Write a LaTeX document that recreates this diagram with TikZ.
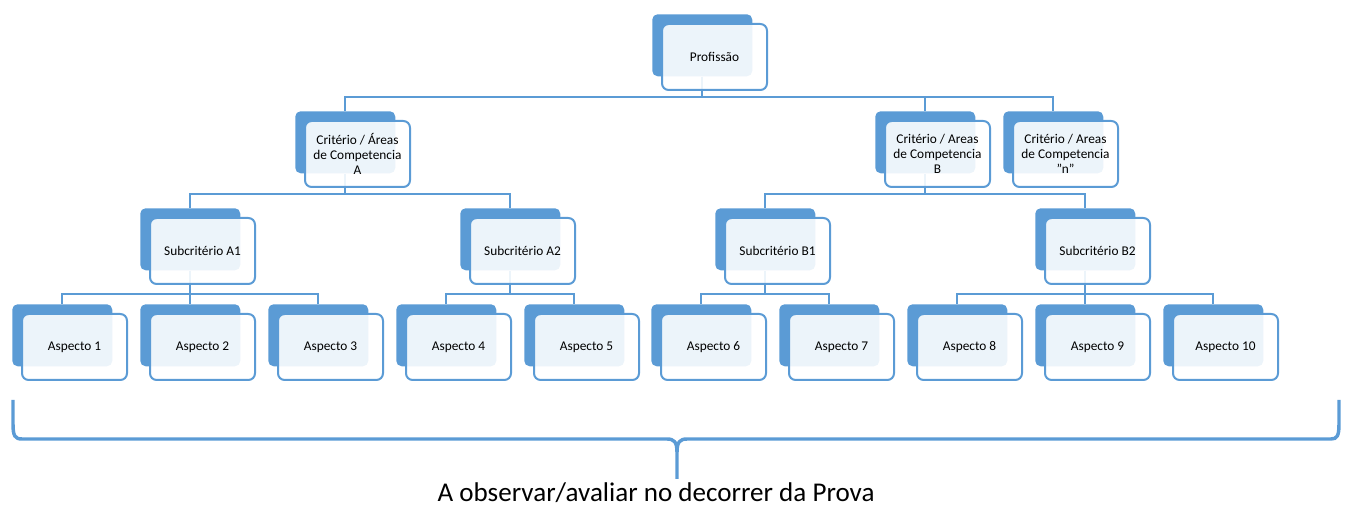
\documentclass[tikz,border=0pt]{standalone}
\usepackage{fontspec}
\setmainfont{Carlito}
\usetikzlibrary{backgrounds}
\definecolor{blu}{RGB}{91,155,213}
\tikzset{
  backbox/.style={draw=none, fill=blu, rounded corners=4pt, minimum width=75pt, minimum height=46.5pt, anchor=north west, inner sep=0pt},
  frontbox/.style={draw=blu, line width=1.5pt, fill=white, fill opacity=0.89, text opacity=1, rounded corners=5pt, minimum width=78.75pt, minimum height=49.5pt, anchor=north west, inner sep=0pt, align=center, font=\fontsize{10}{11.5}\selectfont},
  conn/.style={draw=blu, line width=1.5pt},
  bracestyle/.style={draw=blu, line width=2.6pt}
}
\newcommand\twobox[4]{%
  \node[backbox] (#1-b) at (#2,#3) {};
  \node[frontbox] (#1) at (#2+9,#3+9) {#4};}
\begin{document}
\begin{tikzpicture}[x=0.75pt,y=-0.75pt]
\useasboundingbox (0,0) rectangle (1347,509);
% row 1
\twobox{prof}{652}{14}{Profissão}
% row 2
\twobox{ca}{295}{111}{Critério / Áreas\\de Competencia\\A}
\twobox{cb}{875}{111}{Critério / Areas\\de Competencia\\B}
\twobox{cn}{1003}{111}{Critério / Areas\\de Competencia\\"n"}
% row 3
\twobox{sa1}{140}{208}{Subcritério A1}
\twobox{sa2}{460}{208}{Subcritério A2}
\twobox{sb1}{715}{208}{Subcritério B1}
\twobox{sb2}{1035}{208}{Subcritério B2}
% row 4
\twobox{a1}{12}{304}{Aspecto 1}
\twobox{a2}{140}{304}{Aspecto 2}
\twobox{a3}{268}{304}{Aspecto 3}
\twobox{a4}{396}{304}{Aspecto 4}
\twobox{a5}{524}{304}{Aspecto 5}
\twobox{a6}{651}{304}{Aspecto 6}
\twobox{a7}{779}{304}{Aspecto 7}
\twobox{a8}{907}{304}{Aspecto 8}
\twobox{a9}{1035}{304}{Aspecto 9}
\twobox{a10}{1163}{304}{Aspecto 10}
% connectors
\begin{scope}[on background layer]
\foreach \c in {ca,cb,cn}
  \draw[conn] (prof-b.south) -- (prof-b.south |- 0,97) -| (\c-b.north);
\foreach \c in {sa1,sa2}
  \draw[conn] (ca-b.south) -- (ca-b.south |- 0,194) -| (\c-b.north);
\foreach \c in {sb1,sb2}
  \draw[conn] (cb-b.south) -- (cb-b.south |- 0,194) -| (\c-b.north);
\foreach \c in {a1,a2,a3}
  \draw[conn] (sa1-b.south) -- (sa1-b.south |- 0,294) -| (\c-b.north);
\foreach \c in {a4,a5}
  \draw[conn] (sa2-b.south) -- (sa2-b.south |- 0,294) -| (\c-b.north);
\foreach \c in {a6,a7}
  \draw[conn] (sb1-b.south) -- (sb1-b.south |- 0,294) -| (\c-b.north);
\foreach \c in {a8,a9,a10}
  \draw[conn] (sb2-b.south) -- (sb2-b.south |- 0,294) -| (\c-b.north);
\end{scope}
% brace
\draw[bracestyle] (13,400) -- (13,424) .. controls (13,436) and (15,439) .. (22,439)
  -- (667,439) .. controls (674,439) and (677,442) .. (677,452) -- (677,479);
\draw[bracestyle] (677,452) .. controls (677,442) and (680,439) .. (687,439)
  -- (1331,439) .. controls (1337,439) and (1339,436) .. (1339,424) -- (1339,400);
\node[anchor=base, inner sep=0pt, font=\fontsize{20.3}{24}\selectfont] (caption) at (656,502) {A observar/avaliar no decorrer da Prova};
\end{tikzpicture}
\end{document}
